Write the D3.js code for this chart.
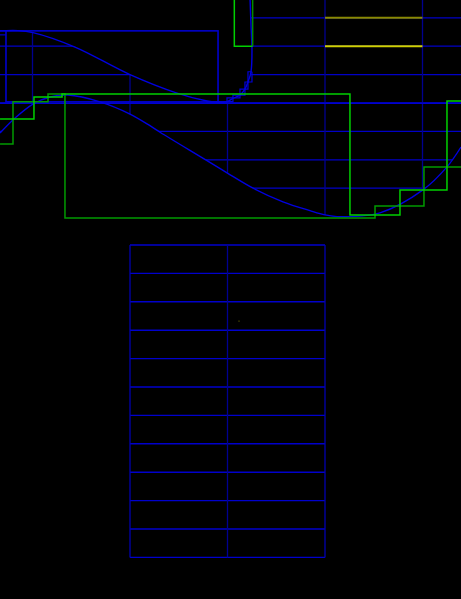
<!DOCTYPE html>
<html>
<head>
<meta charset="utf-8">
<script src="https://cdn.jsdelivr.net/npm/d3@7"></script>
<style>
  html, body { margin: 0; padding: 0; background: #000; }
  svg { display: block; }
</style>
</head>
<body>
<svg id="chart" width="461" height="599"></svg>
<script>
// grid positions (data units)
const gridU = [0, 1, 2, 3, 4];
const gridW = [12, 13, 14, 15, 16, 17, 18, 19];
const tableU = [1, 2, 3];
const tableW = [0, 1, 2, 3, 4, 5, 6, 7, 8, 9, 10, 11];

// upper curve, [u, w]
const curveA = [
  [-0.34, 18.54], [-0.149, 18.55], [0.005, 18.48], [0.436, 17.97], [1.0, 17.0],
  [1.482, 16.35], [1.79, 16.07], [1.903, 16.02], [1.995, 16.05], [2.056, 16.16],
  [2.128, 16.28], [2.179, 16.49], [2.21, 16.74], [2.241, 17.1], [2.251, 17.87],
  [2.241, 18.75], [2.231, 19.7]
];

// steep part, drawn again as steps
const stairs = [
  [1.79, 16.0], [1.995, 16.05], [2.056, 16.18], [2.128, 16.28],
  [2.179, 16.49], [2.21, 16.74], [2.251, 17.1]
];

// lower curve, [u, w]
const curveB = [
  [-0.333, 14.94], [-0.179, 15.47], [0.005, 15.96], [0.179, 16.21], [0.364, 16.28],
  [0.692, 16.04], [1.0, 15.61], [1.205, 15.2], [1.308, 14.97], [1.79, 13.97],
  [1.995, 13.54], [2.262, 13.0], [2.569, 12.52], [2.846, 12.21], [3.0, 12.06],
  [3.123, 12.0], [3.256, 12.0], [3.564, 12.13], [4.005, 12.94], [4.251, 13.75],
  [4.395, 14.45]
];

// green step series
const stepBright = [
  [-0.333, 15.44], [0.015, 16.21], [0.303, 16.32], [3.256, 12.06],
  [3.769, 12.94], [4.251, 16.07], [4.42, 16.07]
];
const stepDark = [
  [-0.333, 14.56], [-0.2, 16.04], [0.159, 16.32], [0.333, 11.95],
  [3.513, 12.37], [4.015, 13.75], [4.42, 13.75]
];
const greenBox = { u0: 2.07, u1: 2.258, w0: 18.0, w1: 19.8 };

// box round the upper curve
const boxA = { u0: -0.272, u1: 1.903, w0: 16.04, w1: 18.54 };

// yellow segments on the grid
const highlights = [
  { w: 19, u0: 3, u1: 4, color: '#8a8a00' },
  { w: 18, u0: 3, u1: 4, color: '#d0d000' }
];
const dot = [2.118, 8.32];

const width = 461, height = 599;
const x = d3.scaleLinear().domain([0, 4]).range([32.5, 422.5]);
const y = d3.scaleLinear().domain([0, 19]).range([557.4, 17.8]);

const svg = d3.select('#chart');
svg.append('rect').attr('width', width).attr('height', height).attr('fill', '#000');

const smooth = d3.line().x(d => x(d[0])).y(d => y(d[1])).curve(d3.curveCatmullRom);

// clip: between upper and lower curve
const pathA = smooth(curveA);
const pathB = smooth(curveB.slice().reverse()).replace(/^M/, 'L');
const clipD = pathA + 'L' + x(4.6) + ',' + y(20) + 'L' + x(4.6) + ',' + y(14.45) + pathB + 'Z';

svg.append('defs').append('clipPath').attr('id', 'between')
  .append('path').attr('d', clipD);

const grid = svg.append('g').attr('clip-path', 'url(#between)');
grid.selectAll('.gh')
  .data(gridW)
  .enter()
  .append('line')
  .attr('class', 'gh')
  .attr('x1', 0).attr('x2', width)
  .attr('y1', d => y(d)).attr('y2', d => y(d))
  .attr('stroke', '#0000c8')
  .attr('stroke-width', 1.3);
grid.selectAll('.gv')
  .data(gridU)
  .enter()
  .append('line')
  .attr('class', 'gv')
  .attr('y1', 0).attr('y2', height)
  .attr('x1', d => x(d)).attr('x2', d => x(d))
  .attr('stroke', '#000090')
  .attr('stroke-width', 1.3);

// base line across the whole width
svg.append('line')
  .attr('x1', 0).attr('x2', width)
  .attr('y1', y(16) + 0.3).attr('y2', y(16) + 0.3)
  .attr('stroke', '#0000d0')
  .attr('stroke-width', 1.4);

svg.selectAll('.hl')
  .data(highlights)
  .enter()
  .append('line')
  .attr('class', 'hl')
  .attr('x1', d => x(d.u0)).attr('x2', d => x(d.u1))
  .attr('y1', d => y(d.w)).attr('y2', d => y(d.w))
  .attr('stroke', d => d.color)
  .attr('stroke-width', 2);

// box round the upper curve
svg.append('rect')
  .attr('x', x(boxA.u0)).attr('y', y(boxA.w1))
  .attr('width', x(boxA.u1) - x(boxA.u0))
  .attr('height', y(boxA.w0) - y(boxA.w1))
  .attr('fill', 'none')
  .attr('stroke', '#0000cc')
  .attr('stroke-width', 1.6);
svg.append('line')
  .attr('x1', 0).attr('x2', x(boxA.u0))
  .attr('y1', y(boxA.w1)).attr('y2', y(boxA.w1))
  .attr('stroke', '#0000cc').attr('stroke-width', 1.6);
svg.append('line')
  .attr('x1', 0).attr('x2', x(boxA.u0))
  .attr('y1', y(boxA.w1) + 4).attr('y2', y(boxA.w1) + 4)
  .attr('stroke', '#0000cc').attr('stroke-width', 1.2);

// curves
svg.append('path')
  .attr('d', pathA)
  .attr('fill', 'none')
  .attr('stroke', '#0000e0')
  .attr('stroke-width', 1.4);
svg.append('path')
  .attr('d', smooth(curveB))
  .attr('fill', 'none')
  .attr('stroke', '#0000e0')
  .attr('stroke-width', 1.4);

// staircases on the steep part
[d3.curveStepAfter, d3.curveStepBefore].forEach(c => {
  svg.append('path')
    .attr('d', d3.line().x(d => x(d[0])).y(d => y(d[1])).curve(c)(stairs))
    .attr('fill', 'none')
    .attr('stroke', '#0000d8')
    .attr('stroke-width', 1.2);
});

// green steps
const stepLine = d3.line().x(d => x(d[0])).y(d => y(d[1])).curve(d3.curveStepAfter);
svg.append('path')
  .attr('d', stepLine(stepDark))
  .attr('fill', 'none')
  .attr('stroke', '#009a00')
  .attr('stroke-width', 1.5);
svg.append('path')
  .attr('d', stepLine(stepBright))
  .attr('fill', 'none')
  .attr('stroke', '#00d000')
  .attr('stroke-width', 1.5);

svg.append('path')
  .attr('d', d3.line()([
    [x(greenBox.u0), y(greenBox.w1)], [x(greenBox.u0), y(greenBox.w0)], [x(greenBox.u1), y(greenBox.w0)]
  ]))
  .attr('fill', 'none').attr('stroke', '#00d000').attr('stroke-width', 1.5);
svg.append('line')
  .attr('x1', x(greenBox.u1)).attr('x2', x(greenBox.u1))
  .attr('y1', y(greenBox.w0)).attr('y2', y(greenBox.w1))
  .attr('stroke', '#008a00').attr('stroke-width', 1.5);

// lower table
const table = svg.append('g');
table.selectAll('.th')
  .data(tableW)
  .enter()
  .append('line')
  .attr('class', 'th')
  .attr('x1', x(1)).attr('x2', x(3))
  .attr('y1', d => y(d)).attr('y2', d => y(d))
  .attr('stroke', '#0000cc')
  .attr('stroke-width', 1.4);
table.selectAll('.tv')
  .data(tableU)
  .enter()
  .append('line')
  .attr('class', 'tv')
  .attr('x1', d => x(d)).attr('x2', d => x(d))
  .attr('y1', y(0)).attr('y2', y(11))
  .attr('stroke', (d, i) => i === 1 ? '#000090' : '#0000b0')
  .attr('stroke-width', 1.3);

svg.append('rect')
  .attr('x', x(dot[0]) - 0.5).attr('y', y(dot[1]) - 0.5)
  .attr('width', 1).attr('height', 1)
  .attr('fill', '#7f7f00');
</script>
</body>
</html>
